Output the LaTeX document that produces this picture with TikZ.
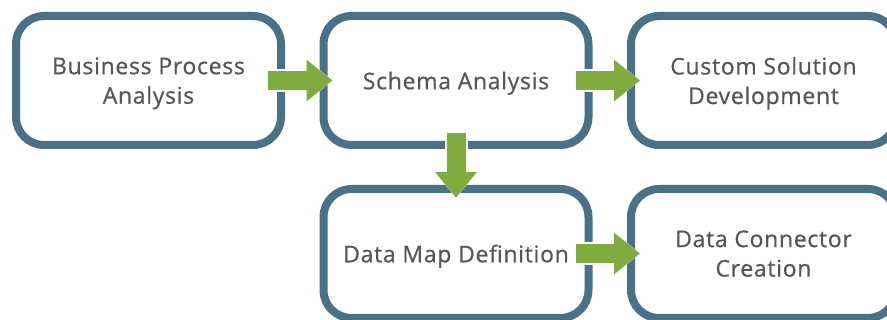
\documentclass[tikz,border=0pt]{standalone}
\usepackage{fontspec}
\setmainfont{Open Sans}[LetterSpace=3, UprightFeatures={FakeBold=0.6}]
\usetikzlibrary{arrows.meta}

\definecolor{boxblue}{HTML}{4B7189}
\definecolor{flowgreen}{HTML}{7FAB3F}
\definecolor{textgray}{HTML}{555658}

\begin{document}
\begin{tikzpicture}[x=1pt,y=-1pt,
    stage/.style={draw=boxblue, line width=8pt, rounded corners=28pt, fill=white,
      minimum width=265pt, minimum height=129pt, align=center, text=textgray,
      text depth=0pt, font=\fontsize{23}{29.5}\selectfont},
    flow/.style={draw=flowgreen, line width=19pt,
      -{Triangle[width=40pt,length=26pt,fill=flowgreen]},
      preaction={draw=white, line width=23pt, -{Triangle[width=46pt,length=29pt]}}}]
  % Define the page size
  \useasboundingbox (0,0) rectangle (887,320);

  % Draw the stage boxes
  \node[stage] (bpa) at (148.5,80.5) {Business Process\\Analysis};
  \node[stage] (sa) at (456,80.5) {Schema Analysis};
  \node[stage] (csd) at (763.5,80.5) {Custom Solution\\Development};
  \node[stage] (dmd) at (456,253.5) {Data Map Definition};
  \node[stage] (dcc) at (763.5,253.5) {Data Connector\\Creation};

  % Draw the arrows between the stages
  \draw[flow] ([xshift=-17pt]bpa.east) -- ([xshift=13pt]sa.west);
  \draw[flow] ([xshift=-17pt]sa.east) -- ([xshift=13pt]csd.west);
  \draw[flow] ([yshift=16pt]sa.south) -- ([yshift=-13pt]dmd.north);
  \draw[flow] ([xshift=-17pt]dmd.east) -- ([xshift=13pt]dcc.west);

\end{tikzpicture}
\end{document}
